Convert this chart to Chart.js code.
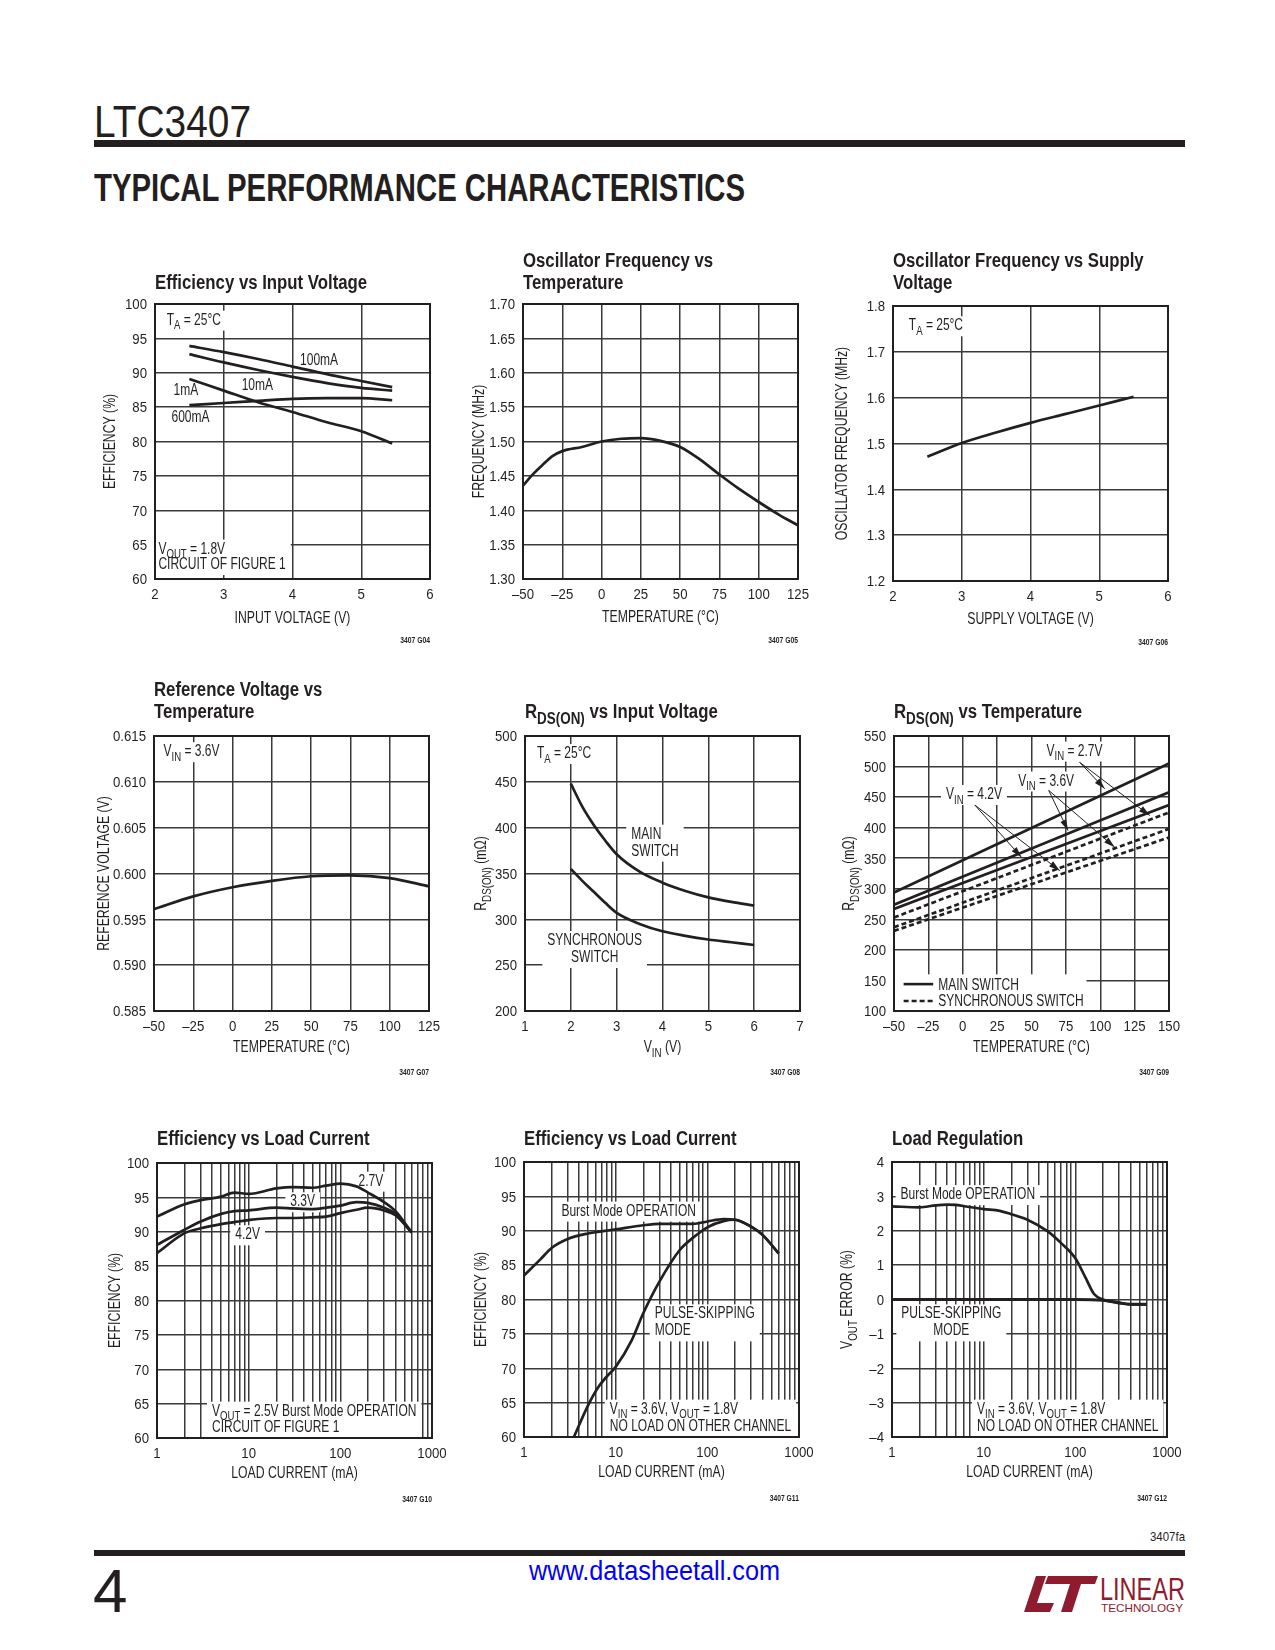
<!DOCTYPE html>
<html>
<head>
<meta charset="utf-8">
<script src="https://cdn.jsdelivr.net/npm/chart.js@4.4.1/dist/chart.umd.min.js"></script>
<style>
  body { margin:0; background:#fff; width:1275px; height:1650px; position:relative; overflow:hidden;
         font-family:"Liberation Sans", Arial, sans-serif; color:#231f20; }
  .abs { position:absolute; white-space:nowrap; }
  canvas { position:absolute; }
</style>
</head>
<body>
<div class="abs" data-w="157" style="left:94px;top:100px;font-size:44px;line-height:44px;">LTC3407</div>
<div class="abs" style="left:94px;top:140px;width:1091px;height:7px;background:#231f20"></div>
<div class="abs" data-w="651" style="left:94px;top:169px;font-size:38px;line-height:38px;font-weight:bold;">TYPICAL PERFORMANCE CHARACTERISTICS</div>

<div class="abs" data-w="35" style="left:1150px;top:1530px;font-size:13px;line-height:13px;">3407fa</div>
<div class="abs" style="left:94px;top:1550px;width:1091px;height:6px;background:#231f20"></div>
<div class="abs" style="left:93px;top:1560px;font-size:62px;line-height:62px;">4</div>
<div class="abs" data-w="251" style="left:529px;top:1558px;font-size:27px;line-height:27px;color:#0000ff">www.datasheetall.com</div>
<svg class="abs" style="left:1018px;top:1572px" width="170" height="42">
  <polygon points="6,40 18,4 28,4 19,31 36,31 32,40" fill="#8e1b2e"/>
  <polygon points="30,4 80,4 77,12 63,12 54,40 43,40 52,12 27,12" fill="#8e1b2e"/>
  <text x="82" y="28" font-size="31" fill="#8e1b2e" textLength="85" lengthAdjust="spacingAndGlyphs"
        font-family="Liberation Sans, Arial, sans-serif">LINEAR</text>
  <text x="83" y="40" font-size="10.5" fill="#8e1b2e" textLength="82" lengthAdjust="spacingAndGlyphs"
        font-family="Liberation Sans, Arial, sans-serif">TECHNOLOGY</text>
</svg>

<script>
// ---- values ----

// Efficiency vs Input Voltage
const vinX = [2.5, 3, 3.5, 4, 4.5, 5, 5.45];
const eff100mA = [93.9, 93.0, 92.0, 90.9, 89.8, 88.8, 87.9];
const eff10mA = [92.7, 91.5, 90.4, 89.4, 88.5, 87.8, 87.4];
const eff1mA = [89.1, 87.4, 85.7, 84.3, 82.8, 81.5, 79.7];
const eff600mA = [85.3, 85.6, 85.9, 86.2, 86.3, 86.3, 86.0];

// Oscillator Frequency vs Temperature
const oscTempX = [-50, -43, -37.5, -31, -25, -12.5, 0, 12.5, 25, 37.5, 50, 62.5, 75, 87.5, 100, 112.5, 125];
const oscTempF = [1.436, 1.454, 1.466, 1.479, 1.486, 1.492, 1.500, 1.504, 1.505, 1.501, 1.492, 1.474, 1.452, 1.431, 1.412, 1.394, 1.378];

// Oscillator Frequency vs Supply Voltage
const supX = [2.5, 3, 3.5, 4, 4.5, 5, 5.5];
const supF = [1.471, 1.501, 1.524, 1.545, 1.564, 1.583, 1.602];

// Reference Voltage vs Temperature
const refX = [-50, -25, 0, 25, 50, 75, 100, 125];
const refV = [0.5961, 0.5975, 0.5985, 0.5992, 0.5997, 0.5998, 0.5995, 0.5986];

// RDS(ON) vs Input Voltage
const rdsVinX = [2, 2.25, 2.5, 2.75, 3, 3.5, 4, 4.5, 5, 5.5, 6];
const rdsMainVin = [448, 423, 403, 386, 371, 352, 340, 331, 324, 319, 315];
const rdsSyncVin = [355, 342, 330, 318, 307, 295, 287, 282, 278, 275, 272];

// RDS(ON) vs Temperature (straight lines)
const rdsTempX = [-50, 150];
const main27 = [294, 505];
const main36 = [274, 458];
const main42 = [267, 437];
const sync27 = [253, 425];
const sync36 = [237, 398];
const sync42 = [231, 384];

// Efficiency vs Load Current, VOUT = 2.5V
const loadX = [1, 2, 3, 5, 7, 10, 20, 30, 50, 70, 100, 150, 200, 300, 400, 600];
const eff27V = [92.2, 94.0, 94.6, 95.1, 95.7, 95.5, 96.3, 96.5, 96.4, 96.7, 97.0, 96.6, 95.7, 94.3, 93.0, 89.9];
const eff33V = [88.1, 90.3, 91.5, 92.6, 93.0, 93.1, 93.5, 93.4, 93.3, 93.5, 93.8, 94.3, 94.2, 93.5, 92.6, 89.9];
const eff42V = [86.9, 89.8, 90.5, 91.1, 91.4, 91.7, 92.0, 92.0, 92.1, 92.2, 92.7, 93.2, 93.5, 93.1, 92.4, 89.9];

// Efficiency vs Load Current, VIN = 3.6V, VOUT = 1.8V
const burstX = [1, 1.5, 2, 3, 5, 7, 10, 20, 30, 50, 70, 100, 150, 200, 300, 400, 600];
const burstEff = [83.5, 85.8, 87.5, 88.8, 89.6, 89.9, 90.2, 90.8, 91.0, 91.0, 91.0, 91.35, 91.7, 91.6, 90.6, 89.4, 86.7];
const pulseX = [3.5, 5, 6.5, 8, 10, 15, 20, 30, 50, 70, 100, 150, 200, 300, 400, 600];
const pulseEff = [60, 64.6, 67.3, 68.8, 70.2, 74.1, 78.0, 82.6, 87.2, 89.0, 90.5, 91.4, 91.6, 90.6, 89.4, 86.7];

// Load Regulation
const regBurstX = [1, 2, 3, 4, 5, 7, 10, 15, 20, 30, 50, 70, 100, 130, 160, 200, 300, 400, 600];
const regBurst = [2.71, 2.68, 2.74, 2.76, 2.75, 2.69, 2.63, 2.58, 2.48, 2.32, 1.98, 1.64, 1.20, 0.62, 0.16, 0.0, -0.09, -0.14, -0.14];
const regPulseX = [1, 10, 100, 200, 300, 400, 600];
const regPulse = [0, 0, 0, -0.02, -0.1, -0.14, -0.14];

// tick values
const voltTicks = [2, 3, 4, 5, 6];
const vinTicks = [1, 2, 3, 4, 5, 6, 7];
const tempTicks = [-50, -25, 0, 25, 50, 75, 100, 125];
const tempTicksWide = [-50, -25, 0, 25, 50, 75, 100, 125, 150];
const effTicks = [60, 65, 70, 75, 80, 85, 90, 95, 100];
const freqTicks = [1.30, 1.35, 1.40, 1.45, 1.50, 1.55, 1.60, 1.65, 1.70];
const supFreqTicks = [1.2, 1.3, 1.4, 1.5, 1.6, 1.7, 1.8];
const refTicks = [0.585, 0.590, 0.595, 0.600, 0.605, 0.610, 0.615];
const rdsTicks = [200, 250, 300, 350, 400, 450, 500];
const rdsTempTicks = [100, 150, 200, 250, 300, 350, 400, 450, 500, 550];
const errTicks = [-4, -3, -2, -1, 0, 1, 2, 3, 4];
const logTicks = [1, 2, 3, 4, 5, 6, 7, 8, 9, 10, 20, 30, 40, 50, 60, 70, 80, 90,
                  100, 200, 300, 400, 500, 600, 700, 800, 900, 1000];
const logLabels = [1, 10, 100, 1000];

// ---- drawing ----
const FONT = '"Liberation Sans", Arial, sans-serif';
const INK = '#231f20';
const GRID = '#3a3a3a';
const NOTE = 16;       // note / legend text size
const SQ = 0.75;       // condensed look for notes
const SQ_AXIS = 0.765;
const SQ_TICK = 0.88;
const SQ_TITLE = 0.86;

// fit the page header/footer texts to their widths
document.querySelectorAll('[data-w]').forEach(el => {
  const k = +el.dataset.w / el.getBoundingClientRect().width;
  el.style.transformOrigin = '0 0';
  el.style.transform = 'scaleX(' + k + ')';
});

function richParts(s) {
  const parts = [];
  const re = /_\{([^}]*)\}/g;
  let last = 0, m;
  while ((m = re.exec(s))) {
    if (m.index > last) parts.push({t: s.slice(last, m.index), sub: false});
    parts.push({t: m[1], sub: true});
    last = re.lastIndex;
  }
  if (last < s.length) parts.push({t: s.slice(last), sub: false});
  return parts;
}

function richWidth(ctx, s, size, weight) {
  let w = 0;
  richParts(s).forEach(p => {
    ctx.font = weight + ' ' + (p.sub ? size * 0.8 : size) + 'px ' + FONT;
    w += ctx.measureText(p.t).width;
  });
  return w;
}

function drawRich(ctx, s, x, y, size, weight, align, sq) {
  sq = sq || SQ;
  const w = richWidth(ctx, s, size, weight) * sq;
  const cx = align === 'center' ? x - w / 2 : align === 'right' ? x - w : x;
  ctx.save();
  ctx.translate(cx, y);
  ctx.scale(sq, 1);
  ctx.textAlign = 'left';
  ctx.textBaseline = 'alphabetic';
  let px = 0;
  richParts(s).forEach(p => {
    ctx.font = weight + ' ' + (p.sub ? size * 0.8 : size) + 'px ' + FONT;
    ctx.fillText(p.t, px, p.sub ? size * 0.3 : 0);
    px += ctx.measureText(p.t).width;
  });
  ctx.restore();
  return w;
}

function makeDeco(c) {
  const o = c.deco;
  return {
    id: 'deco',
    beforeDatasetsDraw(chart) {
      const {ctx, chartArea: a} = chart;
      const sx = chart.scales.x, sy = chart.scales.y;
      const P = (x, y) => [sx.getPixelForValue(x), sy.getPixelForValue(y)];
      ctx.save();
      ctx.beginPath(); ctx.rect(a.left, a.top, a.width, a.height); ctx.clip();
      if (o.legend) {
        const lg = o.legend;
        const [bx1, by1] = P(lg.box[0], lg.box[3]);
        const [bx2, by2] = P(lg.box[2], lg.box[1]);
        ctx.fillStyle = '#fff';
        ctx.fillRect(bx1, by1, bx2 - bx1, by2 - by1);
        lg.items.forEach(it => {
          const [x1, y1] = P(it.x1, it.y);
          const [x2] = P(it.x2, it.y);
          ctx.strokeStyle = INK; ctx.lineWidth = 2.6; ctx.setLineDash(it.dash);
          ctx.beginPath(); ctx.moveTo(x1, y1); ctx.lineTo(x2, y1); ctx.stroke();
          ctx.setLineDash([]);
          const [tx, ty] = P(it.tx, it.ty);
          ctx.fillStyle = INK;
          drawRich(ctx, it.text, tx, ty, NOTE, 'normal', 'left');
        });
      }
      (o.notes || []).forEach(n => {
        const [px, py] = P(n.x, n.y);
        const lh = n.lh || 16.5, align = n.align || 'left';
        const w = Math.max(...n.lines.map(l => richWidth(ctx, l, NOTE, 'normal'))) * SQ;
        const left = align === 'center' ? px - w / 2 : px;
        if (n.bg !== false) {
          ctx.fillStyle = '#fff';
          ctx.fillRect(left - 5, py - 14, w + 10, lh * (n.lines.length - 1) + 20);
        }
        ctx.fillStyle = INK;
        n.lines.forEach((l, i) => drawRich(ctx, l, px, py + i * lh, NOTE, 'normal', align));
      });
      ctx.restore();
      ctx.save();
      ctx.strokeStyle = INK; ctx.lineWidth = 2;
      ctx.strokeRect(a.left, a.top, a.width, a.height);
      ctx.restore();
    },
    afterDatasetsDraw(chart) {
      if (!o.arrows) return;
      const ctx = chart.ctx;
      const sx = chart.scales.x, sy = chart.scales.y;
      ctx.save();
      o.arrows.forEach(ar => {
        const x1 = sx.getPixelForValue(ar[0][0]), y1 = sy.getPixelForValue(ar[0][1]);
        const x2 = sx.getPixelForValue(ar[1][0]), y2 = sy.getPixelForValue(ar[1][1]);
        const ang = Math.atan2(y2 - y1, x2 - x1), L = 11, W = 3.2;
        ctx.strokeStyle = INK; ctx.lineWidth = 1;
        ctx.beginPath(); ctx.moveTo(x1, y1); ctx.lineTo(x2, y2); ctx.stroke();
        ctx.beginPath();
        ctx.moveTo(x2, y2);
        ctx.lineTo(x2 - L * Math.cos(ang) + W * Math.sin(ang), y2 - L * Math.sin(ang) - W * Math.cos(ang));
        ctx.lineTo(x2 - L * Math.cos(ang) - W * Math.sin(ang), y2 - L * Math.sin(ang) + W * Math.cos(ang));
        ctx.closePath();
        ctx.fillStyle = INK; ctx.fill();
      });
      ctx.restore();
    },
    afterDraw(chart) {
      const {ctx, chartArea: a} = chart;
      const sx = chart.scales.x, sy = chart.scales.y;
      ctx.save();
      ctx.fillStyle = INK;
      // tick labels, placed through the chart's own scales
      c.xTicks.forEach(v => {
        const t = c.xFmt(v);
        if (t) drawRich(ctx, t, sx.getPixelForValue(v), a.bottom + 20, 15, 'normal', 'center', SQ_TICK);
      });
      c.yTicks.forEach(v => {
        drawRich(ctx, c.yFmt(v), a.left - 8, sy.getPixelForValue(v) + 5.3, 15, 'normal', 'right', SQ_TICK);
      });
      o.title.forEach((t, i) =>
        drawRich(ctx, t, a.left, a.top - o.titleGap - (o.title.length - 1 - i) * 22, 19.5, 'bold', 'left', SQ_TITLE));
      drawRich(ctx, o.xTitle, (a.left + a.right) / 2, a.bottom + o.xGap, 16, 'normal', 'center', SQ_AXIS);
      drawRich(ctx, o.id, a.right, a.bottom + 64, 9, 'bold', 'right');
      ctx.translate(a.left - o.yOff, (a.top + a.bottom) / 2);
      ctx.rotate(-Math.PI / 2);
      drawRich(ctx, o.yTitle, 0, 5.8, 16, 'normal', 'center', SQ_AXIS);
      ctx.restore();
    }
  };
}

function axis(type, ticks, isX) {
  return {
    type: type,
    min: ticks[0],
    max: ticks[ticks.length - 1],
    afterBuildTicks: s => { s.ticks = ticks.map(v => ({value: v})); },
    afterFit: s => { if (isX) s.height = 75; else s.width = 65; },
    grid: {color: GRID, lineWidth: 1.5, drawTicks: false},
    border: {display: false},
    ticks: {display: false, autoSkip: false}
  };
}

const num = dec => v => (v < 0 ? '–' : '') + Math.abs(v).toFixed(dec);
const logLabel = v => logLabels.includes(v) ? String(v) : '';

function makeChart(c) {
  const cv = document.createElement('canvas');
  cv.width = 360; cv.height = 410;
  cv.style.left = (c.plot[0] - 65) + 'px';
  cv.style.top = (c.plot[1] - 60) + 'px';
  document.body.appendChild(cv);
  new Chart(cv, {
    type: 'line',
    data: {
      datasets: c.series.map(s => ({
        data: s.x.map((x, i) => ({x: x, y: s.y[i]})),
        borderColor: INK,
        borderWidth: s.w || 2.7,
        borderDash: s.dash || [],
        pointRadius: 0,
        cubicInterpolationMode: 'monotone',
        fill: false
      }))
    },
    options: {
      responsive: false,
      animation: false,
      events: [],
      layout: {padding: {left: 0, top: 60, right: 20, bottom: 0}},
      plugins: {legend: {display: false}, tooltip: {enabled: false}},
      scales: {
        x: axis(c.xLog ? 'logarithmic' : 'linear', c.xTicks, true),
        y: axis('linear', c.yTicks, false)
      }
    },
    plugins: [makeDeco(c)]
  });
}

// Efficiency vs Input Voltage
makeChart({
  plot: [155, 304],
  xTicks: voltTicks, xFmt: num(0), yTicks: effTicks, yFmt: num(0),
  series: [
    {x: vinX, y: eff100mA}, {x: vinX, y: eff10mA},
    {x: vinX, y: eff1mA}, {x: vinX, y: eff600mA}
  ],
  deco: {
    title: ['Efficiency vs Input Voltage'], titleGap: 15,
    xTitle: 'INPUT VOLTAGE (V)', xGap: 44, yTitle: 'EFFICIENCY (%)', yOff: 46, id: '3407 G04',
    notes: [
      {x: 2.17, y: 97.0, lines: ['T_{A} = 25°C']},
      {x: 4.11, y: 91.1, lines: ['100mA'], bg: false},
      {x: 3.26, y: 87.5, lines: ['10mA'], bg: false},
      {x: 2.27, y: 86.7, lines: ['1mA'], bg: false},
      {x: 2.24, y: 82.9, lines: ['600mA'], bg: false},
      {x: 2.05, y: 63.7, lh: 15.5, lines: ['V_{OUT} = 1.8V', 'CIRCUIT OF FIGURE 1']}
    ]
  }
});

// Oscillator Frequency vs Temperature
makeChart({
  plot: [523, 304],
  xTicks: tempTicks, xFmt: num(0), yTicks: freqTicks, yFmt: num(2),
  series: [{x: oscTempX, y: oscTempF}],
  deco: {
    title: ['Oscillator Frequency vs', 'Temperature'], titleGap: 15,
    xTitle: 'TEMPERATURE (°C)', xGap: 43, yTitle: 'FREQUENCY (MHz)', yOff: 45, id: '3407 G05'
  }
});

// Oscillator Frequency vs Supply Voltage
makeChart({
  plot: [893, 306],
  xTicks: voltTicks, xFmt: num(0), yTicks: supFreqTicks, yFmt: num(1),
  series: [{x: supX, y: supF}],
  deco: {
    title: ['Oscillator Frequency vs Supply', 'Voltage'], titleGap: 17,
    xTitle: 'SUPPLY VOLTAGE (V)', xGap: 43, yTitle: 'OSCILLATOR FREQUENCY (MHz)', yOff: 52, id: '3407 G06',
    notes: [{x: 2.23, y: 1.747, lines: ['T_{A} = 25°C']}]
  }
});

// Reference Voltage vs Temperature
makeChart({
  plot: [154, 736],
  xTicks: tempTicks, xFmt: num(0), yTicks: refTicks, yFmt: num(3),
  series: [{x: refX, y: refV}],
  deco: {
    title: ['Reference Voltage vs', 'Temperature'], titleGap: 18,
    xTitle: 'TEMPERATURE (°C)', xGap: 41, yTitle: 'REFERENCE VOLTAGE (V)', yOff: 51, id: '3407 G07',
    notes: [{x: -43.9, y: 0.6128, lines: ['V_{IN} = 3.6V']}]
  }
});

// RDS(ON) vs Input Voltage
makeChart({
  plot: [525, 736],
  xTicks: vinTicks, xFmt: num(0), yTicks: rdsTicks, yFmt: num(0),
  series: [{x: rdsVinX, y: rdsMainVin}, {x: rdsVinX, y: rdsSyncVin}],
  deco: {
    title: ['R_{DS(ON)} vs Input Voltage'], titleGap: 18,
    xTitle: 'V_{IN} (V)', xGap: 41, yTitle: 'R_{DS(ON)} (mΩ)', yOff: 45, id: '3407 G08',
    notes: [
      {x: 1.26, y: 476, lines: ['T_{A} = 25°C']},
      {x: 3.32, y: 388, lh: 17, lines: ['MAIN', 'SWITCH']},
      {x: 2.52, y: 272, lh: 17, align: 'center', lines: ['SYNCHRONOUS', 'SWITCH']}
    ]
  }
});

// RDS(ON) vs Temperature
makeChart({
  plot: [894, 736],
  xTicks: tempTicksWide, xFmt: num(0), yTicks: rdsTempTicks, yFmt: num(0),
  series: [
    {x: rdsTempX, y: main27}, {x: rdsTempX, y: main36}, {x: rdsTempX, y: main42},
    {x: rdsTempX, y: sync27, dash: [5, 3]}, {x: rdsTempX, y: sync36, dash: [5, 3]},
    {x: rdsTempX, y: sync42, dash: [5, 3]}
  ],
  deco: {
    title: ['R_{DS(ON)} vs Temperature'], titleGap: 18,
    xTitle: 'TEMPERATURE (°C)', xGap: 41, yTitle: 'R_{DS(ON)} (mΩ)', yOff: 46, id: '3407 G09',
    notes: [
      {x: 60.9, y: 518, lines: ['V_{IN} = 2.7V']},
      {x: 40.3, y: 469, lines: ['V_{IN} = 3.6V']},
      {x: -12.2, y: 447, lines: ['V_{IN} = 4.2V']}
    ],
    arrows: [
      [[85, 507], [103.3, 463.6]], [[85, 507], [136, 419.9]],
      [[62.5, 461], [76.6, 395.3]], [[62.5, 461], [110.5, 368]],
      [[8.8, 437], [42.7, 351.5]], [[8.8, 437], [70.6, 329.7]]
    ],
    legend: {
      box: [-50, 100, 90, 160],
      items: [
        {x1: -43, x2: -21.5, y: 144, dash: [], tx: -17.8, ty: 134.5, text: 'MAIN SWITCH'},
        {x1: -43, x2: -21.5, y: 116.4, dash: [5, 3], tx: -17.8, ty: 108, text: 'SYNCHRONOUS SWITCH'}
      ]
    }
  }
});

// Efficiency vs Load Current (VOUT = 2.5V)
makeChart({
  plot: [157, 1163],
  xLog: true, xTicks: logTicks, xFmt: logLabel, yTicks: effTicks, yFmt: num(0),
  series: [{x: loadX, y: eff27V}, {x: loadX, y: eff33V}, {x: loadX, y: eff42V}],
  deco: {
    title: ['Efficiency vs Load Current'], titleGap: 18,
    xTitle: 'LOAD CURRENT (mA)', xGap: 40, yTitle: 'EFFICIENCY (%)', yOff: 43, id: '3407 G10',
    notes: [
      {x: 158, y: 96.7, lines: ['2.7V']},
      {x: 28.5, y: 93.7, lines: ['3.3V']},
      {x: 7.15, y: 88.9, lines: ['4.2V']},
      {x: 3.98, y: 63.25, lh: 16.7, lines: ['V_{OUT} = 2.5V Burst Mode OPERATION', 'CIRCUIT OF FIGURE 1']}
    ]
  }
});

// Efficiency vs Load Current (VOUT = 1.8V)
makeChart({
  plot: [524, 1162],
  xLog: true, xTicks: logTicks, xFmt: logLabel, yTicks: effTicks, yFmt: num(0),
  series: [{x: burstX, y: burstEff}, {x: pulseX, y: pulseEff}],
  deco: {
    title: ['Efficiency vs Load Current'], titleGap: 17,
    xTitle: 'LOAD CURRENT (mA)', xGap: 40, yTitle: 'EFFICIENCY (%)', yOff: 44, id: '3407 G11',
    notes: [
      {x: 2.56, y: 92.2, lines: ['Burst Mode OPERATION']},
      {x: 26.7, y: 77.25, lh: 17, lines: ['PULSE-SKIPPING', 'MODE']},
      {x: 8.63, y: 63.4, lh: 17, lines: ['V_{IN} = 3.6V, V_{OUT} = 1.8V', 'NO LOAD ON OTHER CHANNEL']}
    ]
  }
});

// Load Regulation
makeChart({
  plot: [892, 1162],
  xLog: true, xTicks: logTicks, xFmt: logLabel, yTicks: errTicks, yFmt: num(0),
  series: [{x: regBurstX, y: regBurst}, {x: regPulseX, y: regPulse, w: 3}],
  deco: {
    title: ['Load Regulation'], titleGap: 17,
    xTitle: 'LOAD CURRENT (mA)', xGap: 40, yTitle: 'V_{OUT} ERROR (%)', yOff: 46, id: '3407 G12',
    notes: [
      {x: 1.24, y: 2.92, lines: ['Burst Mode OPERATION']},
      {x: 4.44, y: -0.55, lh: 17, align: 'center', lines: ['PULSE-SKIPPING', 'MODE']},
      {x: 8.46, y: -3.32, lh: 17, lines: ['V_{IN} = 3.6V, V_{OUT} = 1.8V', 'NO LOAD ON OTHER CHANNEL']}
    ]
  }
});
</script>
</body>
</html>
